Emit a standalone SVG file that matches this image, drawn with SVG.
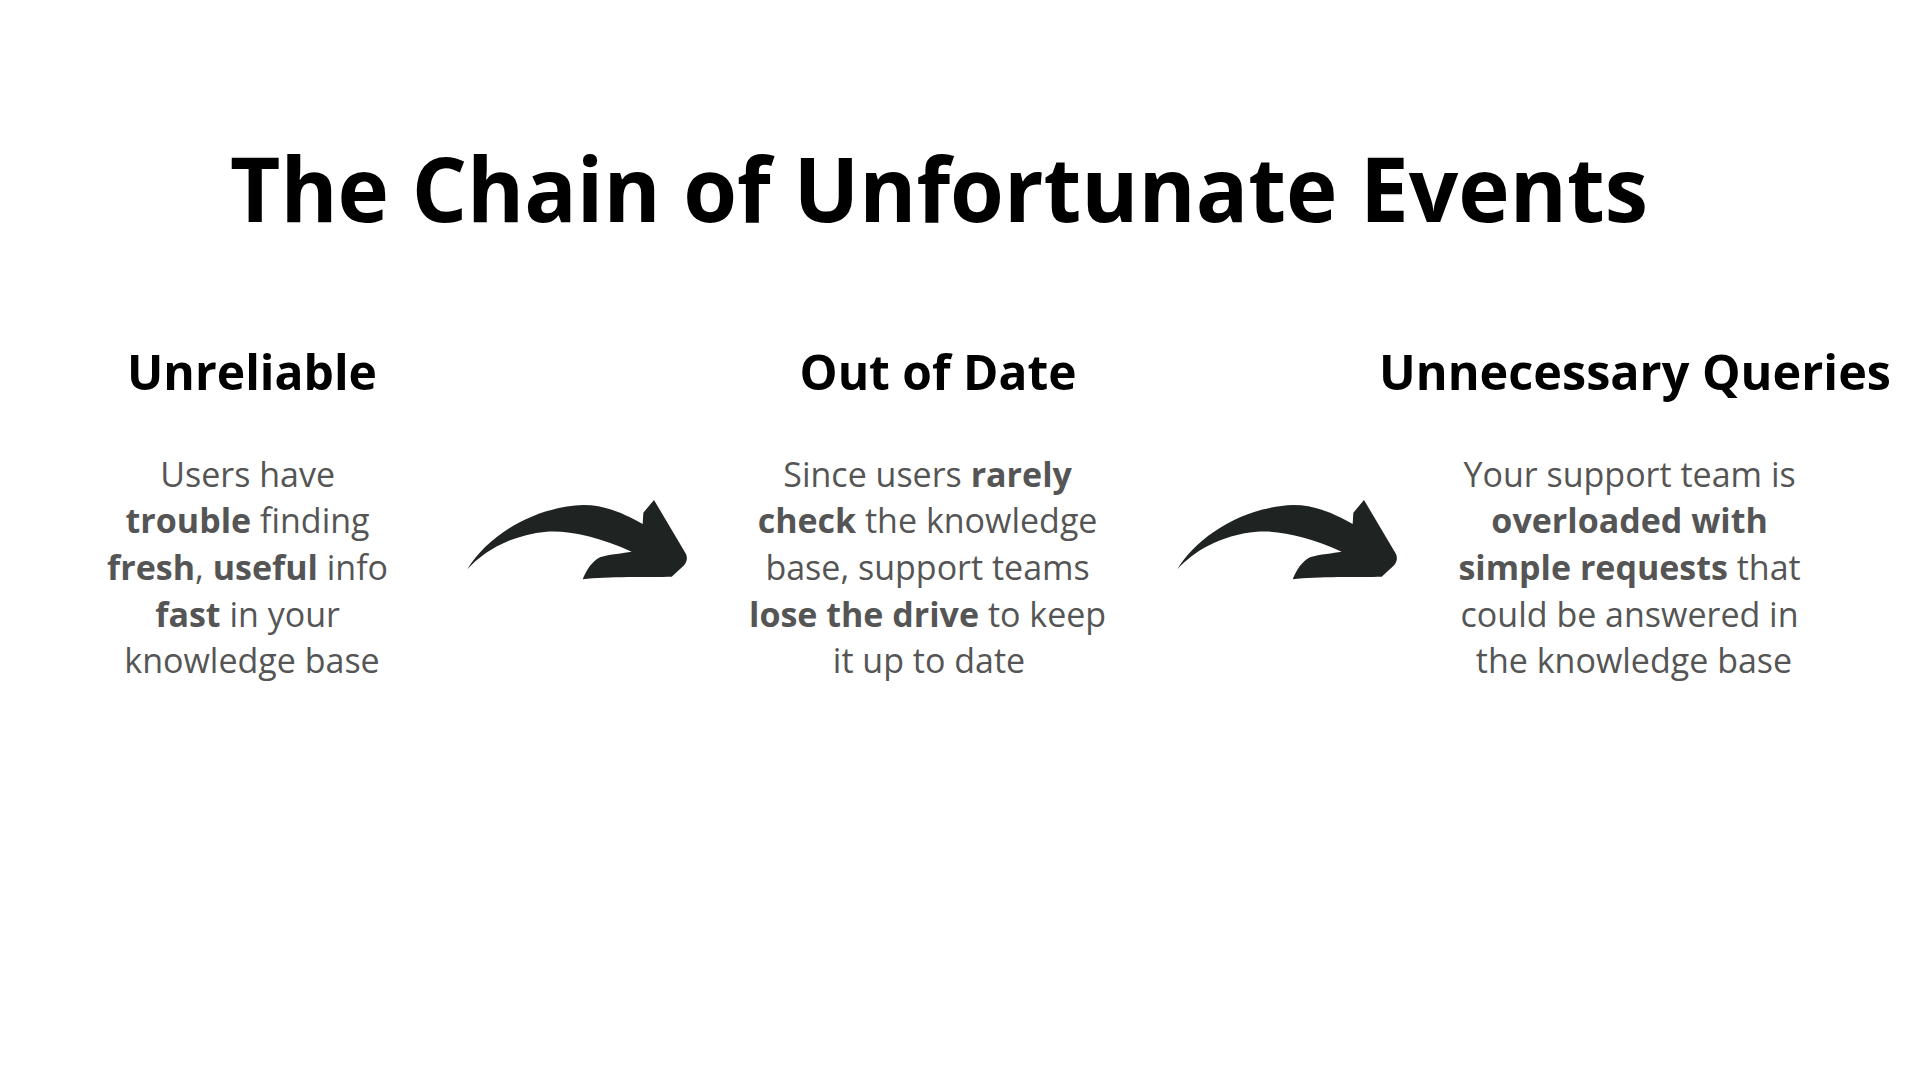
<svg xmlns="http://www.w3.org/2000/svg" width="1920" height="1080" viewBox="0 0 1920 1080">
  <style>
    .title { font-family: "Open Sans", "Noto Sans", sans-serif; font-weight: 700; font-size: 90px; fill: #000; }
    .head { font-family: "Open Sans", "Noto Sans", sans-serif; font-weight: 700; font-size: 49px; fill: #000; }
    .body { font-family: "Open Sans", "Noto Sans", sans-serif; font-weight: 400; font-size: 34px; fill: #555555; }
    .b { font-weight: 700; }
    .arrow { fill: #1f2321; }
  </style>
  <defs>
    <path id="curvedArrow" d="M 52 268 C 110 170, 250 80, 400 75 C 470 75, 530 105, 578 132 L 580 98 L 612 60 L 708 222 Q 716 242 700 258 L 665 290 C 600 292, 470 288, 398 298 C 410 270, 425 245, 450 232 C 480 222, 520 220, 545 215 C 450 170, 350 150, 290 155 C 180 165, 100 215, 52 268 Z"/>
  </defs>
  <rect width="1920" height="1080" fill="#ffffff"/>

  <text class="title" x="939" y="222" text-anchor="middle" textLength="1418" lengthAdjust="spacingAndGlyphs">The Chain of Unfortunate Events</text>

  <g id="node-unreliable">
    <text class="head" x="252" y="390" text-anchor="middle" textLength="250" lengthAdjust="spacingAndGlyphs">Unreliable</text>
    <text class="body" text-anchor="middle">
      <tspan x="252" y="487">Users have</tspan>
      <tspan x="252" y="533"><tspan class="b">trouble</tspan> finding</tspan>
      <tspan x="252" y="580"><tspan class="b">fresh</tspan>, <tspan class="b">useful</tspan> info</tspan>
      <tspan x="252" y="627"><tspan class="b">fast</tspan> in your</tspan>
      <tspan x="252" y="673">knowledge base</tspan>
    </text>
  </g>

  <g id="node-out-of-date">
    <text class="head" x="938" y="390" text-anchor="middle" textLength="277" lengthAdjust="spacingAndGlyphs">Out of Date</text>
    <text class="body" text-anchor="middle">
      <tspan x="932" y="487">Since users <tspan class="b">rarely</tspan></tspan>
      <tspan x="932" y="533"><tspan class="b">check</tspan> the knowledge</tspan>
      <tspan x="932" y="580">base, support teams</tspan>
      <tspan x="932" y="627"><tspan class="b">lose the drive</tspan> to keep</tspan>
      <tspan x="929" y="673">it up to date</tspan>
    </text>
  </g>

  <g id="node-unnecessary-queries">
    <text class="head" x="1635" y="390" text-anchor="middle" textLength="512" lengthAdjust="spacingAndGlyphs">Unnecessary Queries</text>
    <text class="body" text-anchor="middle">
      <tspan x="1634" y="487">Your support team is</tspan>
      <tspan x="1634" y="533"><tspan class="b">overloaded with</tspan></tspan>
      <tspan x="1634" y="580"><tspan class="b">simple requests</tspan> that</tspan>
      <tspan x="1634" y="627">could be answered in</tspan>
      <tspan x="1634" y="673">the knowledge base</tspan>
    </text>
  </g>

  <g id="connectors">
    <use href="#curvedArrow" class="arrow" transform="translate(450 480) scale(0.33333)"/>
    <use href="#curvedArrow" class="arrow" transform="translate(1160 480) scale(0.33333)"/>
  </g>
</svg>
